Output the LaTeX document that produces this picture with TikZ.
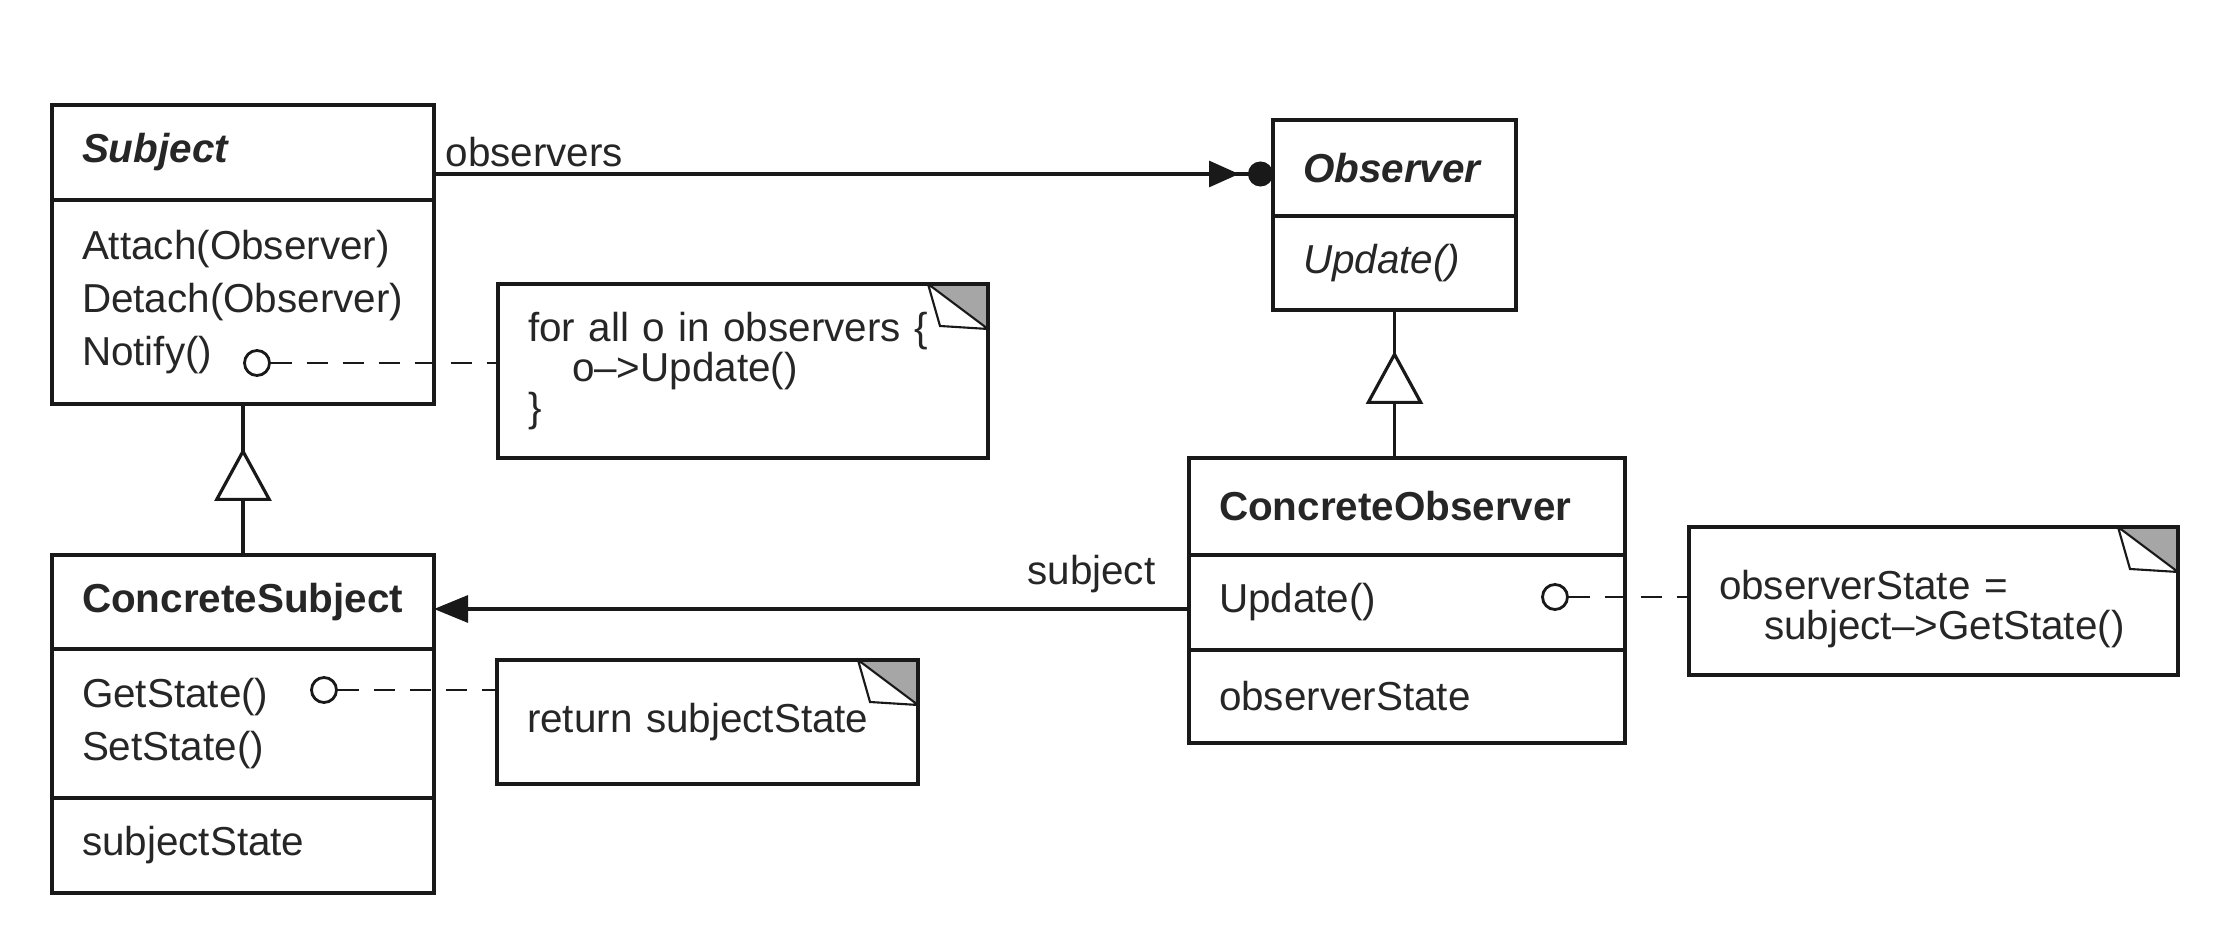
\documentclass[tikz,border=0pt]{standalone}
\usepackage{fontspec}
\setmainfont{Liberation Sans}
\usetikzlibrary{positioning,arrows.meta,decorations.markings}

\tikzset{
  comp/.style={draw, outer sep=0pt, inner xsep=0.3cm, inner ysep=0pt, align=left},
  note/.style={draw, anchor=north west, outer sep=0pt, inner xsep=0.3cm, inner ysep=0pt, align=left,
    font=\fontsize{11.5}{11.4}\selectfont,
    path picture={
      \fill[black!35] ([xshift=-0.6cm]path picture bounding box.north east) -- (path picture bounding box.north east)
        -- ([yshift=-0.45cm]path picture bounding box.north east) -- cycle;
      \draw[fill=white, line width=0.6pt] ([xshift=-0.6cm]path picture bounding box.north east)
        -- ([xshift=-0.48cm,yshift=-0.42cm]path picture bounding box.north east)
        -- ([yshift=-0.45cm]path picture bounding box.north east) -- cycle;
    }},
  dot/.style={circle, draw, fill=white, line width=0.8pt, minimum size=0.25cm, inner sep=0pt},
  noteline/.style={line width=0.8pt, dash pattern=on 2.1mm off 1.5mm},
  genline/.style={postaction={decorate},
    decoration={markings, mark=at position 1.07cm with {\arrow{Triangle[fill=white,length=5.3mm,width=5.7mm]}}}},
  hasmany/.style={-{Triangle[length=3mm,width=2.6mm,sep=0.9mm]Circle[length=2.5mm]}},
  refers/.style={-{Triangle[length=3.4mm,width=2.7mm]}}
}

\begin{document}
\begin{tikzpicture}[line width=0.9pt, draw=black!90, text=black!85, font=\fontsize{11.5}{15.2}\selectfont]
  \useasboundingbox (0,0) rectangle (22.22,-9.48);

  % subject side
  \node[comp, anchor=north west, text width=3.22cm, minimum height=0.95cm] (subj) at (0.52,-1.05) {\textbf{\textit{Subject}}};
  \node[comp, text width=3.22cm, minimum height=2.04cm, below=0pt of subj] (subjops) {Attach(Observer)\\Detach(Observer)\\Notify()};

  \node[comp, anchor=north west, text width=3.22cm, minimum height=0.94cm] (csub) at (0.52,-5.55) {\textbf{ConcreteSubject}};
  \node[comp, text width=3.22cm, minimum height=1.49cm, below=0pt of csub] (csubops) {GetState()\\SetState()};
  \node[comp, text width=3.22cm, minimum height=0.95cm, below=0pt of csubops] (csubattr) {subjectState};

  % observer side
  \node[comp, anchor=north west, text width=1.83cm, minimum height=0.96cm] (obs) at (12.73,-1.20) {\textbf{\textit{Observer}}};
  \node[comp, text width=1.83cm, minimum height=0.94cm, below=0pt of obs] (obsops) {\textit{Update()}};

  \node[comp, anchor=north west, text width=3.76cm, minimum height=0.97cm] (cobs) at (11.89,-4.58) {\textbf{ConcreteObserver}};
  \node[comp, text width=3.76cm, minimum height=0.95cm, below=0pt of cobs] (cobsops) {Update()};
  \node[comp, text width=3.76cm, minimum height=0.93cm, below=0pt of cobsops] (cobsattr) {observerState};

  % notes
  \node[note, text width=4.30cm, minimum height=1.74cm] (notifynote) at (4.98,-2.84)
    {for all o in observers \{\\\hspace*{0.44cm}o–>Update()\\\}};
  \node[note, text width=3.61cm, minimum height=1.24cm] (getnote) at (4.97,-6.60) {return subjectState};
  \node[note, text width=4.29cm, minimum height=1.48cm] (updatenote) at (16.89,-5.27)
    {\rule{0pt}{0.46cm}observerState =\\\hspace*{0.45cm}subject–>GetState()};

  \node[dot] (notifydot) at (2.57,-3.63) {};
  \node[dot] (getdot) at (3.24,-6.90) {};
  \node[dot] (updatedot) at (15.55,-5.97) {};

  \draw[noteline] (notifydot.east) -- (notifydot -| notifynote.west);
  \draw[noteline] (getdot.east) -- (getdot -| getnote.west);
  \draw[noteline] (updatedot.east) -- (updatedot -| updatenote.west);

  % inheritance
  \draw[genline] (csub.north) -- (subjops.south);
  \draw[genline] (obsops.south |- cobs.north) -- (obsops.south);

  % associations
  \draw[hasmany] ([yshift=-0.06cm]obs.west -| subj.east)
    -- node[pos=0, anchor=south west, inner sep=0.06cm, xshift=0.04cm] (obslabel) {observers} ([yshift=-0.06cm]obs.west);
  \draw[refers] ([yshift=-0.065cm]cobsops.west)
    -- node[pos=0, anchor=south east, inner sep=0.15cm, xshift=-0.17cm] (subjlabel) {subject} ([yshift=-0.065cm]cobsops.west -| csub.east);
\end{tikzpicture}
\end{document}
